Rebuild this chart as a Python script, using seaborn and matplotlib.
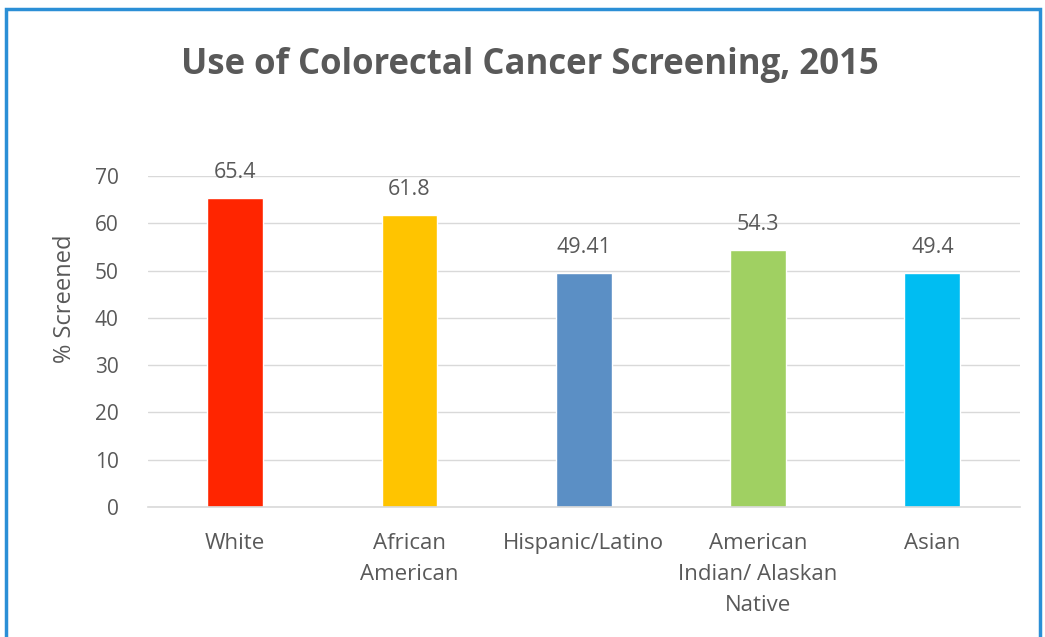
import matplotlib
matplotlib.use("Agg")
import matplotlib.pyplot as plt
from matplotlib.patches import Rectangle
import seaborn as sns
import pandas as pd

categories = ["White", "African\nAmerican", "Hispanic/Latino",
              "American\nIndian/ Alaskan\nNative", "Asian"]
values = [65.4, 61.8, 49.41, 54.3, 49.4]
value_labels = ["65.4", "61.8", "49.41", "54.3", "49.4"]
colors = ["#FF2500", "#FFC400", "#5B8FC5", "#A0D062", "#00BDF2"]
yticks = [0, 10, 20, 30, 40, 50, 60, 70]

sns.set_theme(style="white")
plt.rcParams['font.family'] = ['Open Sans', 'DejaVu Sans']
gray = "#595959"

df = pd.DataFrame({"cat": categories, "val": values})

fig = plt.figure(figsize=(10.45, 6.37), dpi=100)
ax = fig.add_axes([0.1416, 0.204, 0.834, 0.5196])
sns.barplot(data=df, x="cat", y="val", hue="cat", palette=colors,
            width=0.32, legend=False, ax=ax, saturation=1)

ax.set_ylim(0, 70)
ax.set_yticks(yticks)
ax.set_xlim(-0.5, len(categories) - 0.5)
ax.yaxis.grid(True, color="#d9d9d9", linewidth=1)
ax.set_axisbelow(True)
for s in ["top", "right", "left"]:
    ax.spines[s].set_visible(False)
ax.spines["bottom"].set_color("#d9d9d9")
ax.spines["bottom"].set_linewidth(1.2)
ax.tick_params(axis="both", length=0, labelcolor=gray)
ax.tick_params(axis="y", pad=21, labelsize=15)
ax.tick_params(axis="x", pad=19, labelsize=16)
for lbl in ax.get_xticklabels():
    lbl.set_linespacing(1.6)
ax.set_xlabel("")
ax.set_ylabel("% Screened", fontsize=17, color=gray)
ax.yaxis.set_label_coords(-0.082, 0.63)

for i, (v, t) in enumerate(zip(values, value_labels)):
    ax.annotate(t, (i, v), xytext=(0, 11), textcoords="offset points",
                ha="center", va="bottom", fontsize=15.5, color=gray)

fig.text(0.507, 0.898, "Use of Colorectal Cancer Screening, 2015",
         ha="center", va="center", fontsize=25, fontweight="bold", color=gray)

fig.patches.append(Rectangle((6 / 1045, -0.05), (1040 - 6) / 1045, 1.05 - 9 / 637,
                             transform=fig.transFigure, fill=False,
                             edgecolor="#2B8FD6", linewidth=2.5))

fig.savefig("out.png", dpi=100)
